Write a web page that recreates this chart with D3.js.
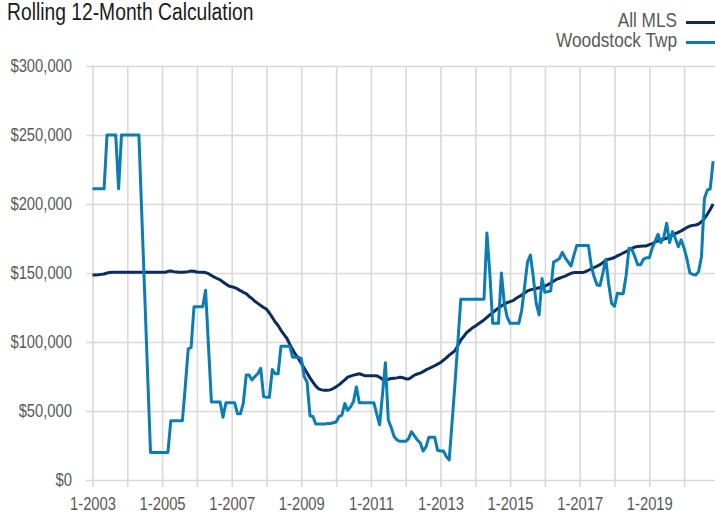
<!DOCTYPE html>
<html>
<head>
<meta charset="utf-8">
<script src="https://cdn.jsdelivr.net/npm/d3@7"></script>
<style>
  html, body { margin: 0; padding: 0; background: #fff; }
  svg { display: block; }
</style>
</head>
<body>
<svg id="chart" width="715" height="515"></svg>
<script>
// ---------------- DATA (monthly, Jan 2003 – Nov 2020, values in $ thousands) ----------------
const startYear = 2003;
const seriesNames = ["All MLS", "Woodstock Twp"];
const seriesColors = ["#0c2c5e", "#0a7db4"];

const allMLS = [
  148.5,148.5,148.7,149.0,149.3,150.0,150.3,150.5,150.5,150.5,150.5,150.5, // 2003
  150.5,150.5,150.5,150.5,150.5,150.5,150.5,150.5,150.5,150.5,150.5,150.5, // 2004
  150.5,150.5,151.2,151.4,151.0,150.8,150.6,150.6,150.8,151.0,151.5,151.3, // 2005
  150.7,150.5,150.5,150.3,149.5,148.2,147.0,146.0,145.0,143.5,142.0,140.6, // 2006
  140.0,139.5,138.5,137.2,136.0,135.0,133.0,131.5,129.5,128.0,126.5,125.0, // 2007
  123.8,121.0,117.8,114.5,112.0,108.5,105.5,102.7,98.5,94.5,91.0,88.0,     // 2008
  84.5,81.0,77.5,74.0,71.0,68.0,66.0,65.3,65.0,65.0,65.3,66.3,             // 2009
  67.5,69.0,70.8,72.5,74.5,75.3,76.0,76.5,77.0,76.3,75.5,75.5,             // 2010
  75.5,75.5,75.5,74.5,73.0,72.5,73.0,73.5,73.8,74.0,74.5,74.2,             // 2011
  73.3,73.2,74.5,76.0,76.8,77.5,78.5,79.8,80.8,81.8,82.8,84.0,             // 2012
  85.0,86.8,88.5,90.5,92.0,93.7,97.5,101.5,104.0,106.8,108.5,110.3,        // 2013
  111.5,113.0,114.5,116.0,117.8,119.6,121.3,123.0,124.6,126.0,127.5,128.5, // 2014
  129.3,130.0,131.5,132.8,134.0,135.5,137.0,137.8,138.3,138.8,139.3,140.0, // 2015
  140.5,141.5,142.8,144.0,145.4,146.2,147.0,147.8,148.8,149.8,150.3,150.3, // 2016
  150.3,150.3,151.0,152.0,153.0,154.0,155.0,156.0,157.5,159.3,160.0,160.5, // 2017
  161.2,162.5,163.4,164.5,165.5,166.7,167.8,168.8,169.2,169.4,169.5,169.6, // 2018
  170.5,171.3,172.3,173.2,174.0,174.5,175.2,176.5,177.5,178.5,179.5,180.5, // 2019
  181.8,183.0,184.0,184.5,184.8,185.5,187.2,189.5,192.5,196.0,200.0        // 2020
];

const woodstockTwp = [
  211,211,211,211,211,250,250,250,250,211,250,250,                         // 2003
  250,250,250,250,250,192,135,77,20,20,20,20,                              // 2004
  20,20,20,43,43,43,43,43,68,95,96,125.5,                                  // 2005
  125.5,125.5,125.5,137.5,97,56.5,56.5,56.5,56.5,45.5,56,56,               // 2006
  56,56,48,48,55.5,76,76,72.5,75,77,81,60.5,                               // 2007
  60,60,80,77,77,97,97,97,97,89,89,89,                                     // 2008
  88,75,71,46.5,46,40.5,40.5,40.5,40.5,41,41,41.5,                         // 2009
  42,46,47,55.5,50.5,53,57,67.5,56,56,56,56,                               // 2010
  56,56,48,40,62,85,43.5,38,31.5,29,28,28,                                 // 2011
  28,30,35,32,29,27,21,24,31,31,31,21.5,                                   // 2012
  21,21,17,14.5,42,70,100,131,131,131,131,131,                             // 2013
  131,131,131,131,179,150,113.5,113.5,113.5,150,128,118,                   // 2014
  113.5,113.5,113.5,113.5,123,140,158,163,147,128,119.6,146,               // 2015
  136,136.5,137,158,159,160.5,165,161,158,155,163,170,                     // 2016
  170,170,170,170,155,147,141.3,141,150,160,142,128,                       // 2017
  126,135.3,135,135,148,168,167,162,156,156,160,161,                       // 2018
  161,168,173,178,172,176,186,172,180,175,169,174,                         // 2019
  168,160,150,149,148.5,151,162,204,210,211,231                            // 2020
];

const yTicks = [0, 50000, 100000, 150000, 200000, 250000, 300000];
const xTickYears = [2003,2004,2005,2006,2007,2008,2009,2010,2011,2012,2013,2014,2015,2016,2017,2018,2019,2020];
const xLabelYears = [2003,2005,2007,2009,2011,2013,2015,2017,2019];
const titleText = "Rolling 12-Month Calculation";

// ---------------- CHART ----------------
const svg = d3.select("#chart");
const FONT = "'Liberation Sans',Arial,sans-serif";
const NARROW = 0.82; // condensed look
const gridColor = "#d9d9d9";
const textColor = "#595959";

const plotLeft = 86, plotRight = 715, plotTop = 66, plotBottom = 480;
const monthPx = 2.9;
const x0 = 92.5;

const x = d3.scaleLinear()
  .domain([0, 12 * (2020 - startYear)])
  .range([x0, x0 + 12 * (2020 - startYear) * monthPx]);
const y = d3.scaleLinear().domain([0, 300000]).range([plotBottom, plotTop]);

const toData = arr => arr.map((v, i) => ({ i, v: v * 1000 }));
const series = [toData(allMLS), toData(woodstockTwp)];

function condense(sel) {
  sel.each(function () {
    const w = this.getComputedTextLength();
    if (w > 0) {
      this.setAttribute("textLength", (w * NARROW).toFixed(2));
      this.setAttribute("lengthAdjust", "spacingAndGlyphs");
    }
  });
}

// horizontal gridlines + y labels
const gy = svg.append("g")
  .attr("transform", `translate(${plotLeft},0)`)
  .call(d3.axisLeft(y).tickValues(yTicks).tickFormat(d3.format("$,.0f"))
        .tickSize(-(plotRight - plotLeft)).tickPadding(14));
gy.select(".domain").remove();
gy.selectAll(".tick line").attr("stroke", gridColor).attr("stroke-width", 1.6);
gy.selectAll(".tick text").attr("fill", textColor).attr("font-family", FONT).attr("font-size", 18).call(condense);

// vertical gridlines
const xIdx = xTickYears.map(yr => (yr - startYear) * 12);
const gxGrid = svg.append("g")
  .attr("transform", `translate(0,${plotBottom})`)
  .call(d3.axisBottom(x).tickValues(xIdx).tickFormat("").tickSize(-(plotBottom - plotTop)));
gxGrid.select(".domain").remove();
gxGrid.selectAll(".tick line").attr("stroke", gridColor).attr("stroke-width", 1.6);

// x tick marks + labels
const gx = svg.append("g")
  .attr("transform", `translate(0,${plotBottom})`)
  .call(d3.axisBottom(x).tickValues(xIdx)
        .tickFormat(i => { const yr = startYear + i / 12; return xLabelYears.includes(yr) ? "1-" + yr : ""; })
        .tickSize(7).tickPadding(10));
gx.select(".domain").remove();
gx.selectAll(".tick line").attr("stroke", gridColor).attr("stroke-width", 1.6);
gx.selectAll(".tick text").attr("fill", textColor).attr("font-family", FONT).attr("font-size", 18).call(condense);

// lines
const line = d3.line().x(d => x(d.i)).y(d => y(d.v));
series.forEach((s, k) => {
  svg.append("path")
    .datum(s)
    .attr("fill", "none")
    .attr("stroke", seriesColors[k])
    .attr("stroke-width", 3)
    .attr("stroke-linejoin", "round")
    .attr("d", line);
});

// title
svg.append("text")
  .attr("x", 7).attr("y", 20)
  .attr("font-family", FONT).attr("font-size", 23.5)
  .attr("fill", "#1a1a1a")
  .text(titleText)
  .call(condense);

// legend
const legendY = [22.5, 42.5];
seriesNames.forEach((name, k) => {
  svg.append("text")
    .attr("x", 677).attr("y", legendY[k] + 4.5)
    .attr("text-anchor", "end")
    .attr("font-family", FONT).attr("font-size", 21)
    .attr("fill", textColor)
    .text(name)
    .call(condense);
  svg.append("line")
    .attr("x1", 686).attr("x2", 715)
    .attr("y1", legendY[k]).attr("y2", legendY[k])
    .attr("stroke", seriesColors[k]).attr("stroke-width", 3);
});
</script>
</body>
</html>
